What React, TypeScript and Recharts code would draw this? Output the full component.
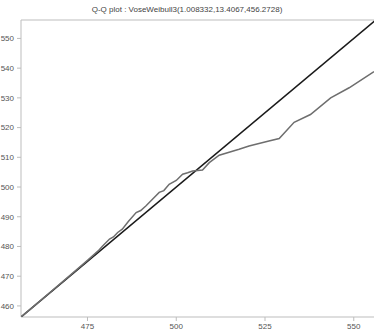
import React from 'react';
import { ScatterChart, Scatter, XAxis, YAxis, ReferenceLine } from 'recharts';

// Q-Q plot data
const theoretical = [
  456.3, 460, 465, 470, 475, 478, 479.2, 481.2, 482.3, 483.5, 484.8, 486.5, 488.7, 490.0,
  491.5, 493.3, 495.2, 496.5, 498.0, 500.0, 501.8, 503.2, 504.6, 507.4, 509.3, 512.1,
  517.7, 520.5, 526.1, 529.0, 533.2, 537.8, 543.5, 548.7, 555.7
];
const empirical = [
  456.3, 460.0, 465.1, 470.2, 475.3, 478.5, 480.1, 482.5, 483.2, 484.7, 485.8, 488.4, 491.4, 492.1,
  493.7, 495.9, 498.2, 498.8, 500.9, 502.2, 504.3, 504.8, 505.4, 505.7, 508.2, 510.7,
  512.7, 513.8, 515.5, 516.3, 521.8, 524.4, 530.0, 533.4, 538.8
];
const diagonalEnds = [456.27, 556];

const xTicks = [475, 500, 525, 550];
const yTicks = [460, 470, 480, 490, 500, 510, 520, 530, 540, 550];

const title = 'Q-Q plot : VoseWeibull3(1.008332,13.4067,456.2728)';

const X_DOMAIN: [number, number] = [456.27, 555.7];
const Y_DOMAIN: [number, number] = [456.27, 556.2];

const qqData = theoretical.map((x, i) => ({ x, y: empirical[i] }));
const diagData = diagonalEnds.map((v) => ({ x: v, y: v }));

const tickStyle = { fontSize: 8, fill: '#555', fontFamily: '"Liberation Sans", Arial, sans-serif' };
const axisColor = '#bdbdbd';

const NoDot = () => <g />;

const App: React.FC = () => {
  return (
    <div style={{ position: 'absolute', left: 0, top: 0, width: 374, height: 334, background: '#fff' }}>
      <div
        style={{
          position: 'absolute',
          top: 5,
          left: 0,
          width: 374,
          textAlign: 'center',
          fontSize: 8,
          lineHeight: '10px',
          color: '#444',
          fontFamily: '"Liberation Sans", Arial, sans-serif'
        }}
      >
        {title}
      </div>
      <ScatterChart width={374} height={334} margin={{ top: 20, right: 0, bottom: 0, left: 0 }}>
        <XAxis
          type="number"
          dataKey="x"
          domain={X_DOMAIN}
          ticks={xTicks}
          height={17}
          tickSize={4}
          tickMargin={2}
          tick={tickStyle}
          stroke={axisColor}
          allowDataOverflow
        />
        <YAxis
          type="number"
          dataKey="y"
          domain={Y_DOMAIN}
          ticks={yTicks}
          width={21}
          tickSize={4}
          tickMargin={3}
          tick={tickStyle}
          stroke={axisColor}
          allowDataOverflow
        />
        <ReferenceLine y={Y_DOMAIN[1]} stroke={axisColor} />
        <Scatter
          data={diagData}
          line={{ stroke: '#1a1a1a', strokeWidth: 1.6 }}
          shape={NoDot}
          isAnimationActive={false}
        />
        <Scatter
          data={qqData}
          line={{ stroke: '#6e6e6e', strokeWidth: 1.5 }}
          shape={NoDot}
          isAnimationActive={false}
        />
      </ScatterChart>
    </div>
  );
};

export default App;
